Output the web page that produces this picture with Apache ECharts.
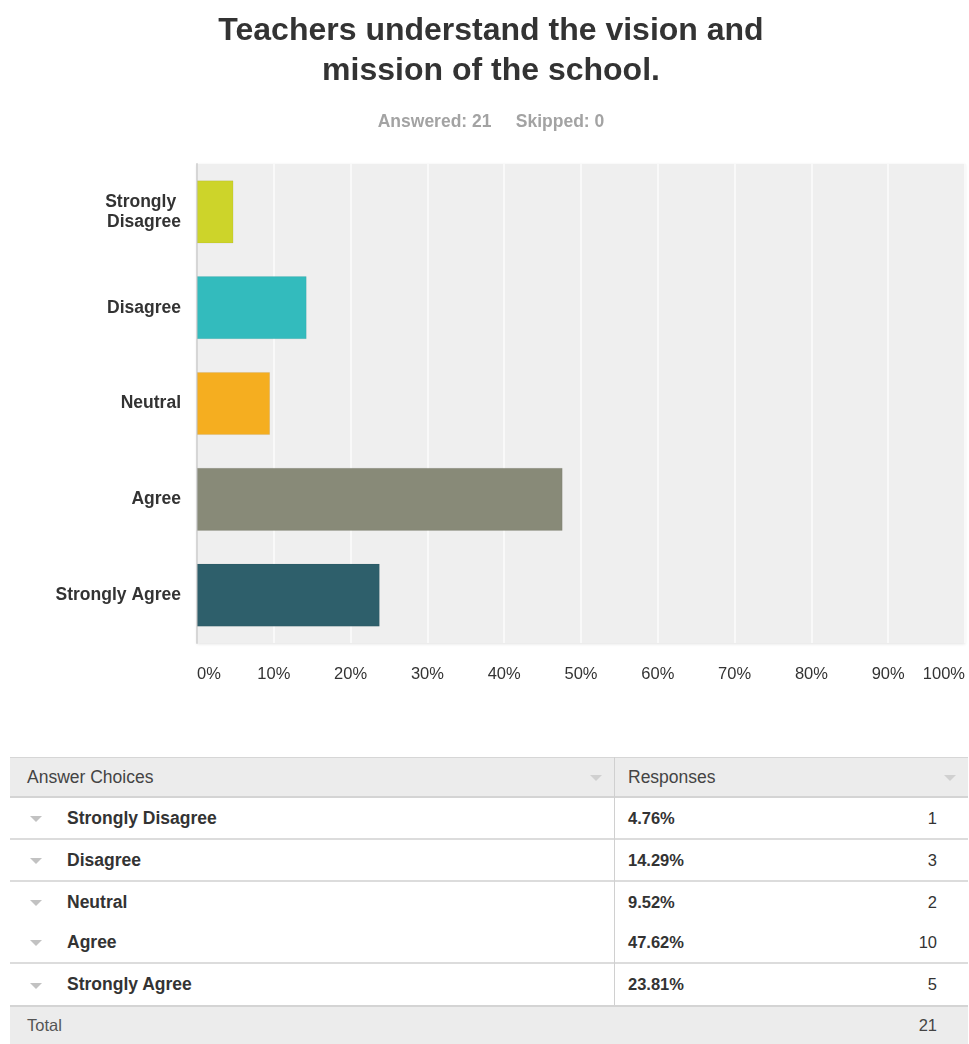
<!DOCTYPE html>
<html>
<head>
<meta charset="utf-8">
<script src="https://cdn.jsdelivr.net/npm/echarts@6/dist/echarts.min.js"></script>
<style>
  html, body { margin: 0; padding: 0; background: #fff; }
  body { width: 969px; height: 1044px; position: relative; overflow: hidden;
         font-family: "Liberation Sans", Arial, sans-serif; color: #333; }
  #chart { position: absolute; left: 0; top: 0; width: 969px; height: 720px; }
  #table { position: absolute; left: 10px; top: 757px; width: 958px; }
  .row { position: absolute; left: 0; width: 958px; box-sizing: border-box; }
  .cell { position: absolute; top: 0; height: 100%; display: flex; align-items: center; white-space: nowrap; }
  .head { background: #ececec; border-top: 1px solid #d6d6d6; border-bottom: 2px solid #d4d4d4; }
  .foot { background: #ececec; border-top: 2px solid #d4d4d4; }
  .line { border-bottom: 2px solid #dcdcdc; }
  .caret { position: absolute; top: 50%; margin-top: -2px; width: 0; height: 0;
           border-left: 6px solid transparent; border-right: 6px solid transparent;
           border-top: 6px solid #c2c2c2; }
  .head .caret { border-top-color: #d0d0d0; }
  .sep { position: absolute; left: 604px; top: 0; width: 1px; background: #d0d0d0; }
</style>
</head>
<body>
<div id="chart"></div>
<div id="table"></div>
<script>
// Survey answers for the question, in display order
const categories = ['Strongly Disagree', 'Disagree', 'Neutral', 'Agree', 'Strongly Agree'];
const percents = [4.76, 14.29, 9.52, 47.62, 23.81];
const counts = [1, 3, 2, 10, 5];
const skipped = 0;
const barColors = ['#cdd42a', '#33bbbd', '#f5ae20', '#888a78', '#2e5f6b'];
const xTicks = [0, 10, 20, 30, 40, 50, 60, 70, 80, 90, 100];

const answered = counts.reduce((a, b) => a + b, 0);

const chart = echarts.init(document.getElementById('chart'), null, { renderer: 'canvas' });
chart.setOption({
  animation: false,
  title: {
    text: 'Teachers understand the vision and\nmission of the school.',
    subtext: 'Answered: ' + answered + '     Skipped: ' + skipped,
    left: 486,
    textAlign: 'center',
    top: 6,
    itemGap: 21,
    textStyle: { fontFamily: 'Liberation Sans', fontSize: 32, fontWeight: 'bold', color: '#333', lineHeight: 40 },
    subtextStyle: { fontFamily: 'Liberation Sans', fontSize: 17.5, fontWeight: 'bold', color: '#a3a3a3', lineHeight: 20 }
  },
  grid: {
    left: 197, right: 4, top: 164, height: 479,
    show: true, backgroundColor: '#efefef', borderWidth: 0,
    shadowColor: 'rgba(0,0,0,0.12)', shadowBlur: 3, shadowOffsetY: 1
  },
  xAxis: {
    type: 'value', min: 0, max: 100, interval: 10,
    axisLine: { show: false },
    axisTick: { show: false },
    splitLine: { show: true, lineStyle: { color: '#f9f9f9', width: 2 } },
    axisLabel: {
      formatter: v => xTicks.includes(v) ? v + '%' : '',
      fontFamily: 'Liberation Sans', fontSize: 16.5, color: '#333',
      margin: 23, alignMinLabel: 'left', alignMaxLabel: 'right'
    }
  },
  yAxis: {
    type: 'category', data: categories, inverse: true,
    axisLine: { show: true, lineStyle: { color: '#d6d6d6', width: 2 } },
    axisTick: { show: false },
    splitLine: { show: false },
    axisLabel: {
      fontFamily: 'Liberation Sans', fontSize: 17.5, fontWeight: 'bold', color: '#333',
      margin: 16, width: 140, overflow: 'break', lineHeight: 20, align: 'right'
    }
  },
  series: [{
    type: 'bar',
    data: percents.map((v, i) => ({ value: v, itemStyle: { color: barColors[i] } })),
    barCategoryGap: '34%',
    itemStyle: { borderColor: 'rgba(0,0,0,0.06)', borderWidth: 1 }
  }]
});

// Answer choices table built from the same arrays
const table = document.getElementById('table');
const rowTops = [0, 41, 83, 125, 165, 207, 248];
const rowHeights = [41, 42, 42, 40, 42, 41, 39];
const lineAfter = [true, true, false, true, false];

function addRow(top, height, cls, html) {
  const r = document.createElement('div');
  r.className = 'row ' + cls;
  r.style.top = top + 'px';
  r.style.height = height + 'px';
  r.innerHTML = html;
  table.appendChild(r);
}

addRow(rowTops[0], rowHeights[0], 'head',
  '<div class="cell" style="left:17px;font-size:17.5px;color:#444;">Answer Choices</div>' +
  '<div class="caret" style="left:580px;"></div>' +
  '<div class="cell" style="left:618px;font-size:17.5px;color:#444;">Responses</div>' +
  '<div class="caret" style="left:934px;"></div>');

categories.forEach((c, i) => {
  addRow(rowTops[i + 1], rowHeights[i + 1], lineAfter[i] ? 'line' : '',
    '<div class="caret" style="left:20px;"></div>' +
    '<div class="cell" style="left:57px;font-size:17.5px;font-weight:bold;color:#333;">' + c + '</div>' +
    '<div class="cell" style="left:618px;font-size:16.5px;font-weight:bold;color:#333;">' + percents[i].toFixed(2) + '%</div>' +
    '<div class="cell" style="right:31px;justify-content:flex-end;font-size:16.5px;color:#333;">' + counts[i] + '</div>');
});

addRow(rowTops[6], rowHeights[6], 'foot',
  '<div class="cell" style="left:17px;font-size:16.5px;color:#555;">Total</div>' +
  '<div class="cell" style="right:31px;justify-content:flex-end;font-size:16.5px;color:#444;">' + answered + '</div>');

const sep = document.createElement('div');
sep.className = 'sep';
sep.style.height = rowTops[6] + 'px';
table.appendChild(sep);
</script>
</body>
</html>
